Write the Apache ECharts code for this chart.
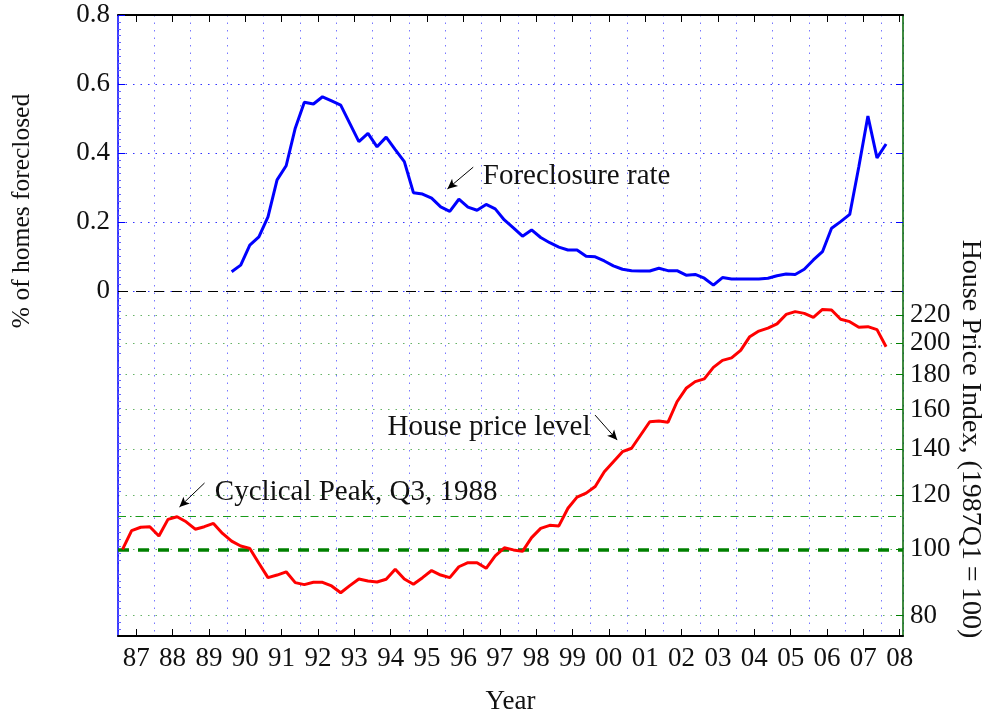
<!DOCTYPE html>
<html><head><meta charset="utf-8">
<script src="https://cdn.jsdelivr.net/npm/echarts@6/dist/echarts.min.js"></script>
<style>html,body{margin:0;padding:0;background:#fff}#c{width:985px;height:717px}</style>
</head><body><div id="c"></div>
<script>
// ---------- data ----------
const quarterLabels = [];
for (let y = 1987; y <= 2008; y++) for (let q = 1; q <= 4; q++) { if (y === 2008 && q > 1) break; quarterLabels.push(y + 'Q' + q); }

// House price index (1987Q1=100), 1987Q1 .. 2008Q1
const housePrice = [
  100, 106.5, 107.7, 107.9, 104.6, 110.6, 111.6, 109.7, 107.0, 107.9,
  109.1, 105.5, 102.8, 101.1, 100.3, 95.4, 90.9, 91.7, 92.7, 89.4,
  88.8, 89.5, 89.5, 88.4, 86.4, 88.5, 90.5, 89.9, 89.6, 90.4,
  93.5, 90.5, 88.9, 90.9, 93.1, 91.7, 90.9, 94.3, 95.6, 95.6,
  93.8, 97.8, 100.5, 99.8, 99.3, 104.0, 107.3, 108.4, 108.2, 114.8,
  119.2, 120.8, 123.5, 129.8, 134.3, 138.9, 140.5, 146.9, 153.6, 154.0,
  153.3, 164.3, 171.9, 175.8, 177.4, 184.4, 188.8, 190.4, 195.3, 204.5,
  208.4, 210.5, 213.5, 220.4, 222.5, 221.2, 218.3, 224.1, 223.7, 216.9,
  215.1, 211.1, 211.5, 209.4, 197.7
];

// % of homes foreclosed, 1990Q1 .. 2008Q1
const foreclosureStart = '1990Q1';
const foreclosureRate = [
  0.056, 0.075, 0.133, 0.157, 0.215, 0.322, 0.363, 0.472, 0.547, 0.542,
  0.563, 0.551, 0.539, 0.486, 0.433, 0.457, 0.418, 0.446, 0.410, 0.375,
  0.285, 0.281, 0.269, 0.244, 0.231, 0.266, 0.243, 0.234, 0.251, 0.238,
  0.206, 0.183, 0.159, 0.177, 0.155, 0.140, 0.127, 0.119, 0.119, 0.101,
  0.099, 0.087, 0.073, 0.063, 0.059, 0.058, 0.058, 0.066, 0.059, 0.059,
  0.046, 0.048, 0.037, 0.017, 0.039, 0.035, 0.035, 0.035, 0.035, 0.037,
  0.044, 0.049, 0.048, 0.063, 0.090, 0.114, 0.182, 0.201, 0.222, 0.360,
  0.507, 0.386, 0.426
];

const yearTicks = [1987,1988,1989,1990,1991,1992,1993,1994,1995,1996,1997,1998,1999,2000,2001,2002,2003,2004,2005,2006,2007,2008];
const leftTicks = [0, 0.2, 0.4, 0.6, 0.8];
const rightTicks = [80, 100, 120, 140, 160, 180, 200, 220];
const baseLevel = 100;
const cyclicalPeakLevel = 111.6;

// ---------- build ----------
const quarterTime = quarterLabels.map(s => +s.slice(0, 4) + (+s.slice(5) - 0.5) / 4);
const houseData = housePrice.map((v, i) => [quarterTime[i], v]);
const fcStart = quarterLabels.indexOf(foreclosureStart);
const fcData = foreclosureRate.map((v, i) => [quarterTime[fcStart + i], v]);
const yearTickValues = yearTicks.map(y => y + 0.5);

const FONT = "'Liberation Serif', 'DejaVu Serif', serif";
const TXT = '#111';
const XMIN = 1987, XMAX = 2008.59;

const chart = echarts.init(document.getElementById('c'), null, {renderer: 'canvas'});
const arrowLine = (a, b) => [{coord: a, symbol: 'none'}, {coord: b, symbol: 'arrow', symbolSize: [7, 10]}];

const option = {
  animation: false,
  backgroundColor: '#fff',
  textStyle: {fontFamily: FONT},
  grid: {left: 118, right: 82, top: 15, bottom: 81, containLabel: false, outerBoundsMode: 'none'},
  xAxis: [
    { type: 'value', min: XMIN, max: XMAX, interval: 1, position: 'bottom',
      axisLine: {show: true, onZero: false, lineStyle: {color: '#000', width: 2}},
      axisTick: {show: false}, axisLabel: {show: false},
      splitLine: {show: true, lineStyle: {color: '#7777ff', width: 1, type: [1.5, 6]}},
      name: 'Year', nameLocation: 'middle', nameGap: 52,
      nameTextStyle: {fontSize: 27, color: TXT, fontFamily: FONT} },
    { type: 'value', min: XMIN, max: XMAX, position: 'bottom',
      axisLine: {show: false, onZero: false},
      axisTick: {show: true, inside: true, length: 7, customValues: yearTickValues, lineStyle: {color: '#000', width: 1}},
      axisLabel: {show: true, customValues: yearTickValues, margin: 9, fontSize: 27, color: TXT, fontFamily: FONT,
        formatter: v => String(Math.floor(v) % 100).padStart(2, '0')},
      splitLine: {show: false} },
    { type: 'value', min: XMIN, max: XMAX, position: 'top',
      axisLine: {show: true, onZero: false, lineStyle: {color: '#000', width: 2}},
      axisTick: {show: true, inside: true, length: 7, customValues: yearTickValues, lineStyle: {color: '#000', width: 1}},
      axisLabel: {show: false}, splitLine: {show: false} }
  ],
  yAxis: [
    { type: 'value', min: -1, max: 0.8, interval: 0.2, position: 'left',
      axisLine: {show: true, onZero: false, lineStyle: {color: '#0000ff', width: 1.5}},
      axisTick: {show: true, inside: true, length: 7, customValues: leftTicks, lineStyle: {color: '#0000ff', width: 1}},
      minorTick: {show: true, splitNumber: 10, length: 3, lineStyle: {color: '#6666ff', width: 1}},
      axisLabel: {customValues: leftTicks, margin: 8, fontSize: 27, color: TXT, fontFamily: FONT,
        formatter: v => (Math.abs(v) < 1e-9 ? '0' : v.toFixed(1))},
      splitLine: {show: true, lineStyle: {color: '#3333ff', width: 1, type: [1.5, 6]}} },
    { type: 'log', logBase: 10, min: 74.7, max: 603.6, position: 'right',
      axisLine: {show: true, onZero: false, lineStyle: {color: '#006400', width: 1.5}},
      axisTick: {show: true, inside: true, length: 7, customValues: rightTicks, lineStyle: {color: '#008000', width: 1}},
      minorTick: {show: false},
      axisLabel: {customValues: rightTicks, margin: 7, fontSize: 27, color: TXT, fontFamily: FONT,
        formatter: v => String(Math.round(v))},
      splitLine: {show: true, lineStyle: {color: '#66b366', width: 1, type: [1.5, 6]}} },
    { type: 'value', min: -1, max: 0.8, position: 'right',
      axisLine: {show: false, onZero: false},
      axisTick: {show: true, inside: true, length: 7, customValues: [0, 0.2, 0.4, 0.6], lineStyle: {color: '#0000ff', width: 1}},
      axisLabel: {show: false}, splitLine: {show: false} }
  ],
  graphic: [
    { type: 'text', x: 22, y: 211, rotation: Math.PI / 2,
      style: {text: '% of homes foreclosed', fontSize: 25.5, fontFamily: FONT, fill: TXT,
        align: 'center', verticalAlign: 'middle', textAlign: 'center', textVerticalAlign: 'middle'} },
    { type: 'text', x: 970, y: 439, rotation: -Math.PI / 2,
      style: {text: 'House Price Index, (1987Q1\u2009=\u2009100)', fontSize: 28, fontFamily: FONT, fill: TXT,
        align: 'center', verticalAlign: 'middle', textAlign: 'center', textVerticalAlign: 'middle'} }
  ],
  series: [
    { type: 'line', name: 'Foreclosure rate', xAxisIndex: 0, yAxisIndex: 0, data: fcData,
      showSymbol: false, symbol: 'none', lineStyle: {color: '#0000ff', width: 3}, z: 5,
      markLine: { silent: true, symbol: 'none', label: {show: false}, animation: false,
        data: [
          {yAxis: 0, lineStyle: {color: '#000', width: 1, type: [10, 8]}},
          arrowLine([1996.77, 0.359], [1996.06, 0.296])
        ],
        lineStyle: {color: '#000', width: 1, type: 'solid'} },
      markPoint: { silent: true, animation: false,
        data: [{ coord: [1997.02, 0.333], symbol: 'circle', symbolSize: 1, itemStyle: {color: 'rgba(0,0,0,0)'},
          label: {show: true, position: 'right', distance: 0, formatter: 'Foreclosure rate', fontSize: 29, color: TXT, fontFamily: FONT} }] } },
    { type: 'line', name: 'House price level', xAxisIndex: 0, yAxisIndex: 1, data: houseData,
      showSymbol: false, symbol: 'none', lineStyle: {color: '#ff0000', width: 3}, z: 6,
      markLine: { silent: true, symbol: 'none', label: {show: false}, animation: false,
        data: [
          {yAxis: baseLevel, lineStyle: {color: '#008000', width: 3.5, type: [11, 9]}},
          {yAxis: cyclicalPeakLevel, lineStyle: {color: '#1a9a1a', width: 1, type: [8, 4, 1.5, 4]}},
          arrowLine([2000.12, 157.1], [2000.73, 144.4]),
          arrowLine([1989.38, 125.0], [1988.69, 115.3])
        ],
        lineStyle: {color: '#000', width: 1, type: 'solid'} },
      markPoint: { silent: true, animation: false,
        data: [
          { coord: [2000.01, 150.9], symbol: 'circle', symbolSize: 1, itemStyle: {color: 'rgba(0,0,0,0)'},
            label: {show: true, position: 'left', distance: 0, formatter: 'House price level', fontSize: 29, color: TXT, fontFamily: FONT} },
          { coord: [1989.65, 121.3], symbol: 'circle', symbolSize: 1, itemStyle: {color: 'rgba(0,0,0,0)'},
            label: {show: true, position: 'right', distance: 0, formatter: 'Cyclical Peak, Q3, 1988', fontSize: 29, color: TXT, fontFamily: FONT} }
        ] } }
  ]
};
chart.setOption(option);
</script>
</body></html>
